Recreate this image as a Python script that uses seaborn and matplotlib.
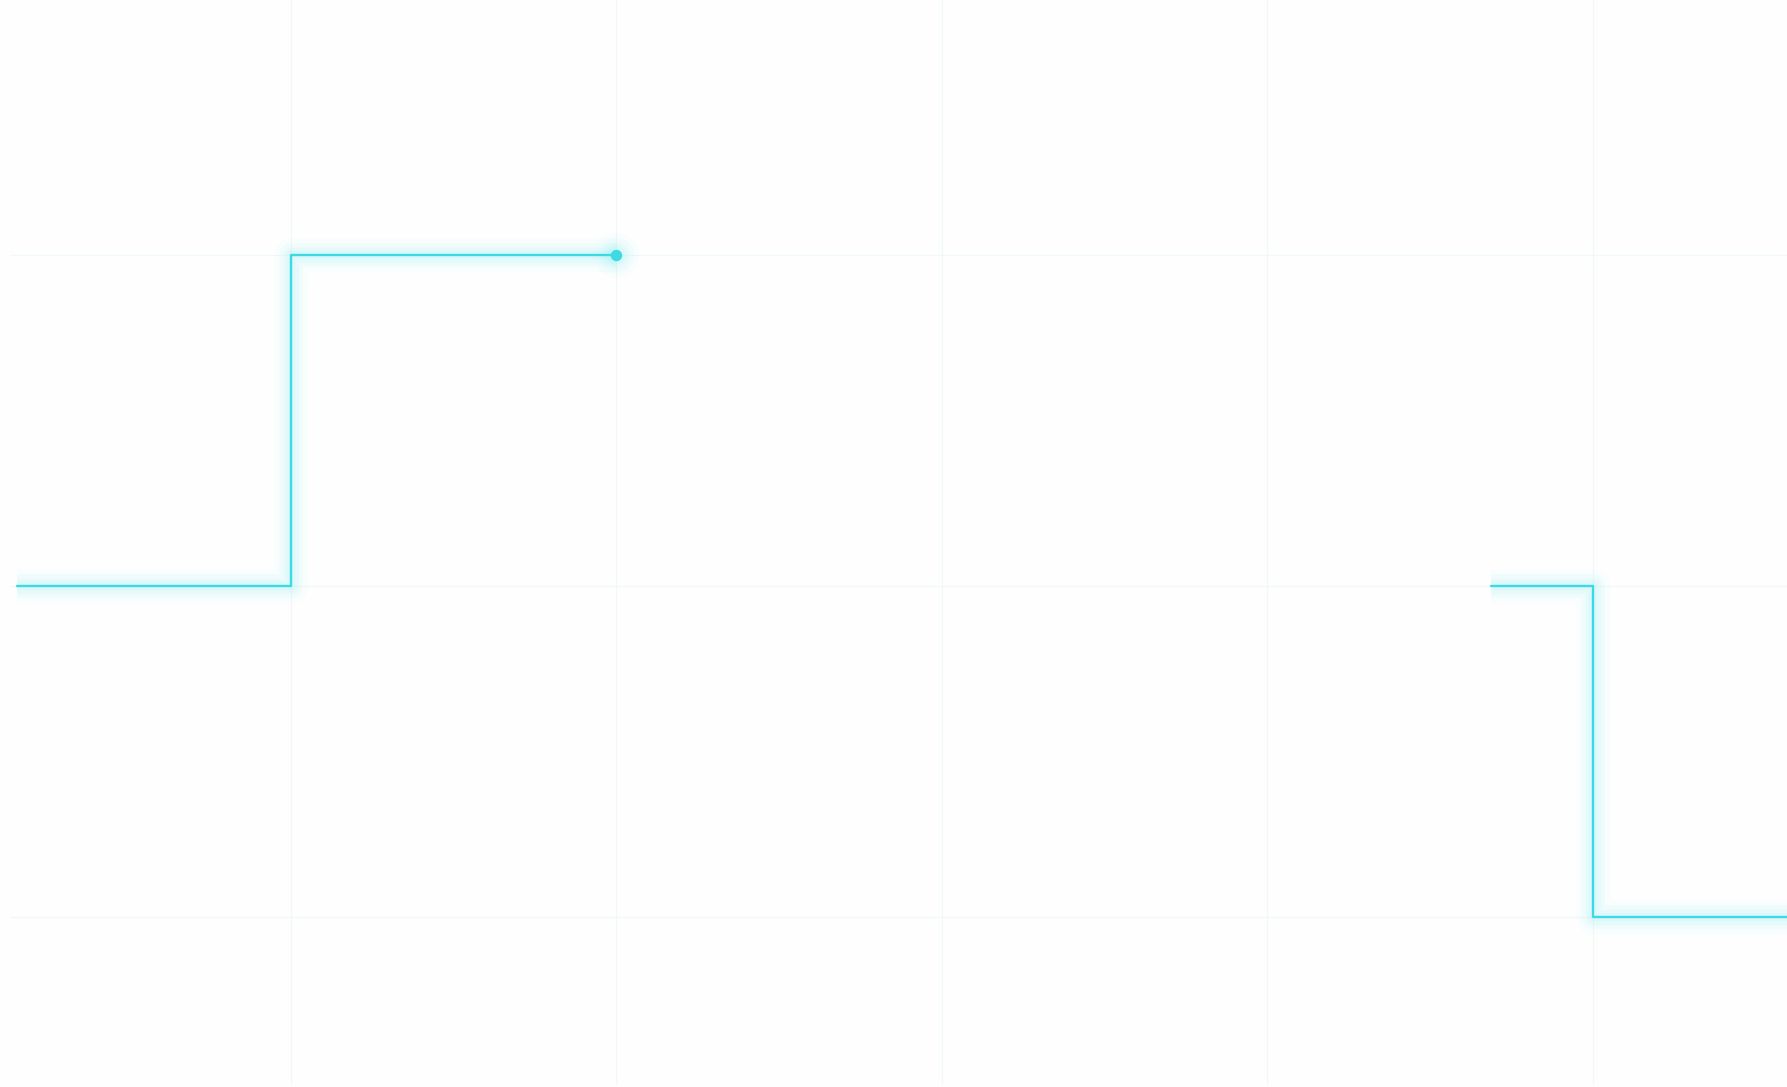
import numpy as np
import pandas as pd

import seaborn as sns
import matplotlib.pyplot as plt

# step series, two separate runs with a gap between them
seg_a_x = [0.157, 1.0, 2.0]
seg_a_y = [0.0, 1.0, 1.0]
seg_b_x = [4.6875, 5.0, 5.8]
seg_b_y = [0.0, -1.0, -1.0]

grid_x = [1, 2, 3, 4, 5]
grid_y = [-1, 0, 1]

LINE = "#3edae3"
GLOW = "#7eeef4"
BG = "#fefefe"

df = pd.concat(
    [
        pd.DataFrame({"x": seg_a_x, "y": seg_a_y, "seg": "a"}),
        pd.DataFrame({"x": seg_b_x, "y": seg_b_y, "seg": "b"}),
    ],
    ignore_index=True,
)
last = pd.DataFrame({"x": [seg_a_x[-1]], "y": [seg_a_y[-1]]})

sns.set_style("white")
fig = plt.figure(figsize=(17.87, 10.87), dpi=100, facecolor=BG)
ax = fig.add_axes([0.0056, 0.002, 0.9944, 0.998])
ax.set_facecolor(BG)

# soft glow under the line
for lw, a in [(24, 0.04), (17, 0.06), (11, 0.08), (6, 0.11)]:
    sns.lineplot(data=df, x="x", y="y", units="seg", estimator=None,
                 drawstyle="steps-post", color=GLOW, linewidth=lw, alpha=a,
                 solid_capstyle="butt", ax=ax, legend=False)
    sns.scatterplot(data=last, x="x", y="y", color=GLOW, s=(8 + lw) ** 2,
                    alpha=a, linewidth=0, ax=ax, legend=False)

sns.lineplot(data=df, x="x", y="y", units="seg", estimator=None,
             drawstyle="steps-post", color=LINE, linewidth=1.7,
             ax=ax, legend=False)
sns.scatterplot(data=last, x="x", y="y", color=LINE, s=68, linewidth=0,
                ax=ax, legend=False, zorder=5)

ax.set_xlim(0.1365, 5.597)
ax.set_ylim(-1.508, 1.770)
ax.set_xticks(grid_x)
ax.set_yticks(grid_y)
ax.grid(True, color="#f0f8f8", linewidth=0.9)
ax.set_axisbelow(True)
ax.tick_params(length=0, labelbottom=False, labelleft=False)
ax.set_xlabel("")
ax.set_ylabel("")
sns.despine(ax=ax, left=True, bottom=True)

plt.savefig("out.png", dpi=100, facecolor=BG)
